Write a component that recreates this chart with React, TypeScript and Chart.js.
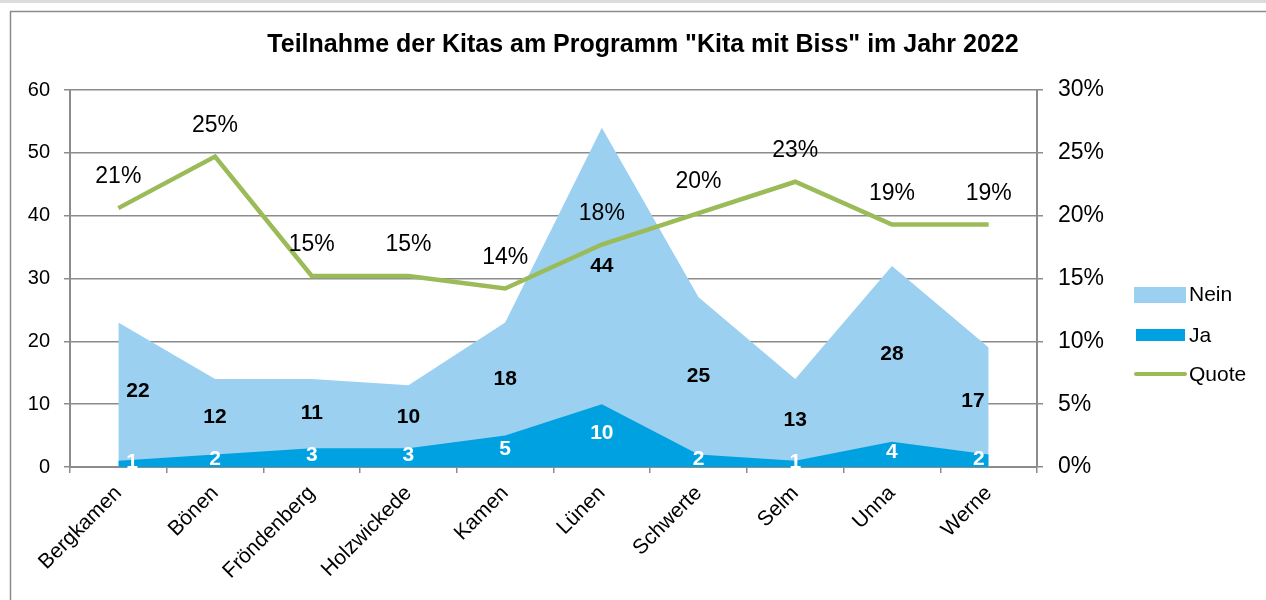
import React, { useEffect, useRef } from 'react';
import { Chart, registerables } from 'chart.js';

Chart.register(...registerables);

const chartTitle = 'Teilnahme der Kitas am Programm "Kita mit Biss" im Jahr 2022';
const categories = ['Bergkamen', 'Bönen', 'Fröndenberg', 'Holzwickede', 'Kamen', 'Lünen', 'Schwerte', 'Selm', 'Unna', 'Werne'];
const jaValues = [1, 2, 3, 3, 5, 10, 2, 1, 4, 2];
const neinValues = [22, 12, 11, 10, 18, 44, 25, 13, 28, 17];
const quoteValues = [0.206, 0.247, 0.152, 0.152, 0.142, 0.177, 0.202, 0.227, 0.193, 0.193];
const quoteLabels = ['21%', '25%', '15%', '15%', '14%', '18%', '20%', '23%', '19%', '19%'];
const legendLabels = ['Nein', 'Ja', 'Quote'];

const FONT = '"Liberation Sans", Arial, sans-serif';
const C_NEIN = '#9BD0F1';
const C_JA = '#00A1E0';
const C_QUOTE = '#9BBB59';
const C_GRID = '#8C8C8C';

const framePlugin = {
  id: 'frame',
  beforeDraw(chart: any) {
    const ctx = chart.ctx;
    ctx.save();
    ctx.fillStyle = '#ffffff';
    ctx.fillRect(0, 0, chart.width, chart.height);
    ctx.fillStyle = '#DCDCDC';
    ctx.fillRect(0, 0, chart.width, 3);
    ctx.strokeStyle = '#8C8C8C';
    ctx.lineWidth = 1.5;
    ctx.beginPath();
    ctx.moveTo(10.5, chart.height);
    ctx.lineTo(10.5, 11.5);
    ctx.lineTo(chart.width, 11.5);
    ctx.stroke();
    ctx.fillStyle = '#000';
    ctx.font = `bold 25px ${FONT}`;
    ctx.textAlign = 'center';
    ctx.textBaseline = 'middle';
    ctx.fillText(chartTitle, 643, 45);
    ctx.restore();
  },
};

const labelsPlugin = {
  id: 'valueLabels',
  afterDatasetsDraw(chart: any) {
    const ctx = chart.ctx;
    const yScale = chart.scales.y;
    const zero = yScale.getPixelForValue(0);
    const jaMeta = chart.getDatasetMeta(0);
    const neinMeta = chart.getDatasetMeta(1);
    const qMeta = chart.getDatasetMeta(2);
    const n = categories.length;
    ctx.save();
    ctx.textBaseline = 'middle';
    for (let i = 0; i < n; i++) {
      const pJa = jaMeta.data[i];
      const pNein = neinMeta.data[i];
      const pQ = qMeta.data[i];
      let align: CanvasTextAlign = 'center';
      let dx = 0;
      if (i === 0) { align = 'left'; dx = 8; }
      if (i === n - 1) { align = 'right'; dx = -4; }
      ctx.textAlign = align;
      ctx.font = `bold 21px ${FONT}`;
      ctx.fillStyle = '#000';
      ctx.fillText(String(neinValues[i]), pNein.x + dx, (pNein.y + pJa.y) / 2);
      ctx.fillStyle = '#fff';
      ctx.fillText(String(jaValues[i]), pJa.x + dx, (pJa.y + zero) / 2 - 2);
      ctx.textAlign = 'center';
      ctx.font = `23px ${FONT}`;
      ctx.fillStyle = '#000';
      ctx.fillText(quoteLabels[i], pQ.x, pQ.y - 31);
    }
    ctx.restore();
  },
  afterDraw(chart: any) {
    const ctx = chart.ctx;
    ctx.save();
    ctx.font = `21px ${FONT}`;
    ctx.textAlign = 'left';
    ctx.textBaseline = 'middle';
    ctx.fillStyle = C_NEIN;
    ctx.fillRect(1134, 287, 52, 16);
    ctx.fillStyle = C_JA;
    ctx.fillRect(1136, 329, 49, 12);
    ctx.strokeStyle = C_QUOTE;
    ctx.lineWidth = 4;
    ctx.lineCap = 'round';
    ctx.beginPath();
    ctx.moveTo(1136, 374);
    ctx.lineTo(1185, 374);
    ctx.stroke();
    ctx.fillStyle = '#000';
    ctx.fillText(legendLabels[0], 1189, 295);
    ctx.fillText(legendLabels[1], 1189, 336);
    ctx.fillText(legendLabels[2], 1189, 375);
    ctx.restore();
  },
};

export default function App() {
  const ref = useRef<HTMLCanvasElement>(null);
  useEffect(() => {
    if (!ref.current) return;
    const chart = new Chart(ref.current, {
      type: 'line',
      data: {
        labels: categories,
        datasets: [
          {
            label: 'Ja',
            data: jaValues,
            yAxisID: 'y',
            backgroundColor: C_JA,
            borderColor: C_JA,
            borderWidth: 0,
            pointRadius: 0,
            fill: 'origin',
            tension: 0,
            order: 1,
          },
          {
            label: 'Nein',
            data: neinValues,
            yAxisID: 'y',
            backgroundColor: C_NEIN,
            borderColor: C_NEIN,
            borderWidth: 0,
            pointRadius: 0,
            fill: 'origin',
            tension: 0,
            order: 2,
          },
          {
            label: 'Quote',
            data: quoteValues,
            yAxisID: 'y1',
            borderColor: C_QUOTE,
            backgroundColor: C_QUOTE,
            borderWidth: 4.5,
            pointRadius: 0,
            fill: false,
            tension: 0,
            order: 0,
          },
        ],
      },
      options: {
        responsive: false,
        animation: false,
        layout: { padding: { top: 90, left: 0, right: 0, bottom: 0 } },
        plugins: {
          legend: { display: false },
          title: { display: false },
          tooltip: { enabled: false },
        },
        scales: {
          x: {
            type: 'category',
            offset: true,
            grid: {
              offset: true,
              drawOnChartArea: false,
              drawTicks: true,
              tickLength: 6,
              color: C_GRID,
              lineWidth: 1.5,
            },
            border: { display: true, color: C_GRID, width: 2 },
            ticks: {
              maxRotation: 45,
              minRotation: 45,
              autoSkip: false,
              padding: 8,
              color: '#000',
              font: { family: FONT, size: 21 },
            },
            afterFit(scale: any) { scale.height = 133; },
          },
          y: {
            type: 'linear',
            position: 'left',
            stacked: true,
            min: 0,
            max: 60,
            ticks: {
              stepSize: 10,
              padding: 14,
              color: '#000',
              font: { family: FONT, size: 20 },
            },
            grid: {
              drawOnChartArea: true,
              drawTicks: true,
              tickLength: 6,
              color: C_GRID,
              lineWidth: 1.5,
            },
            border: { display: true, color: C_GRID, width: 2 },
            afterFit(scale: any) { scale.width = 70; },
          },
          y1: {
            type: 'linear',
            position: 'right',
            min: 0,
            max: 0.3,
            ticks: {
              stepSize: 0.05,
              padding: 15,
              color: '#000',
              font: { family: FONT, size: 23 },
              callback: (v: any) => `${Math.round(Number(v) * 100)}%`,
            },
            grid: {
              drawOnChartArea: false,
              drawTicks: true,
              tickLength: 6,
              color: C_GRID,
              lineWidth: 1.5,
            },
            border: { display: true, color: C_GRID, width: 2 },
            afterFit(scale: any) { scale.width = 229; },
          },
        },
      } as any,
      plugins: [framePlugin, labelsPlugin],
    });
    return () => chart.destroy();
  }, []);
  return (
    <div style={{ position: 'fixed', left: 0, top: 0, width: 1266, height: 600 }}>
      <canvas ref={ref} width={1266} height={600} style={{ display: 'block', width: 1266, height: 600 }} />
    </div>
  );
}
